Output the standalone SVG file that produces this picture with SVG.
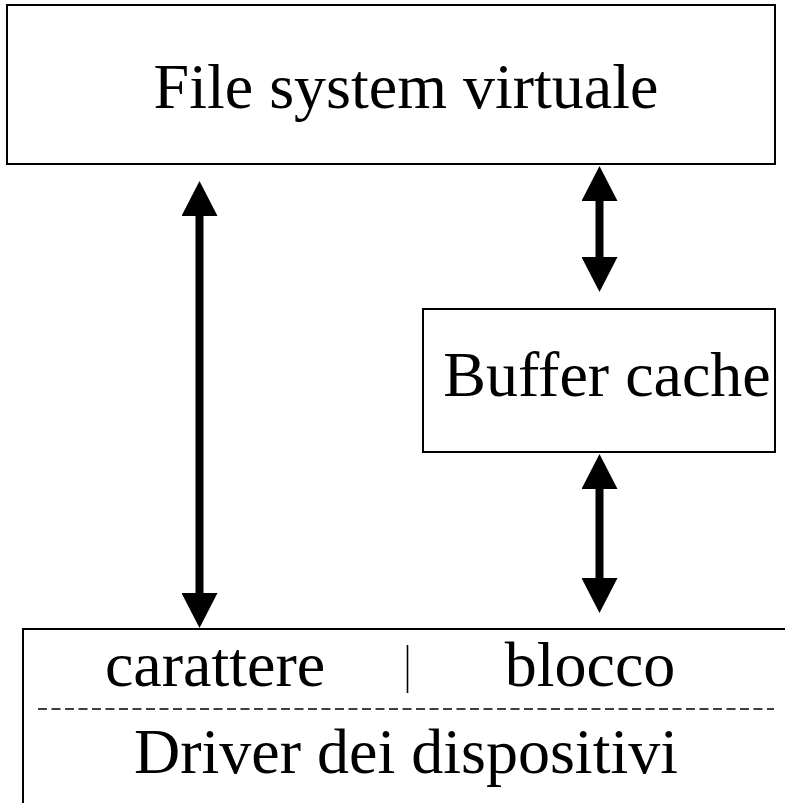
<svg xmlns="http://www.w3.org/2000/svg" width="785" height="803" viewBox="0 0 785 803">
  <style>
    .box { fill: #ffffff; stroke: #000000; stroke-width: 2; }
    .edge { stroke: #000000; stroke-width: 2; fill: none; }
    .label { font-family: "Liberation Serif", "Times New Roman", serif; font-size: 64px; fill: #000000; text-anchor: middle; }
    .shaft { stroke: #000000; stroke-width: 8; fill: none; marker-start: url(#head); marker-end: url(#head); }
    .dash { stroke: #000000; stroke-width: 1.6; stroke-dasharray: 9 4.5; fill: none; }
  </style>
  <defs>
    <marker id="head" viewBox="0 0 35 36" markerUnits="userSpaceOnUse" markerWidth="35" markerHeight="36" refX="0" refY="18" orient="auto-start-reverse">
      <path d="M0,0 L35,18 L0,36 Z" fill="#000000"/>
    </marker>
  </defs>

  <rect width="785" height="803" fill="#ffffff"/>

  <!-- upper layer -->
  <g id="vfs">
    <rect class="box" x="7" y="5" width="768" height="159"/>
    <text class="label" x="406" y="108">File system virtuale</text>
  </g>

  <!-- block cache -->
  <g id="buffer-cache">
    <rect class="box" x="423" y="309" width="352" height="143"/>
    <text class="label" x="607" y="396">Buffer cache</text>
  </g>

  <!-- device drivers, open on the right and bottom -->
  <g id="drivers">
    <line class="edge" x1="23" y1="629" x2="785" y2="629"/>
    <line class="edge" x1="23" y1="628" x2="23" y2="803"/>
    <text class="label" x="215" y="686">carattere</text>
    <line x1="407.5" y1="645" x2="407.5" y2="693" stroke="#000000" stroke-width="1.6"/>
    <text class="label" x="590" y="686">blocco</text>
    <line class="dash" x1="38" y1="709" x2="774" y2="709"/>
    <text class="label" x="406" y="773">Driver dei dispositivi</text>
  </g>

  <!-- two-way data paths -->
  <g id="connectors">
    <line class="shaft" x1="199.5" y1="216" x2="199.5" y2="593"/>
    <line class="shaft" x1="599.5" y1="201" x2="599.5" y2="257"/>
    <line class="shaft" x1="599.5" y1="489" x2="599.5" y2="578"/>
  </g>
</svg>
